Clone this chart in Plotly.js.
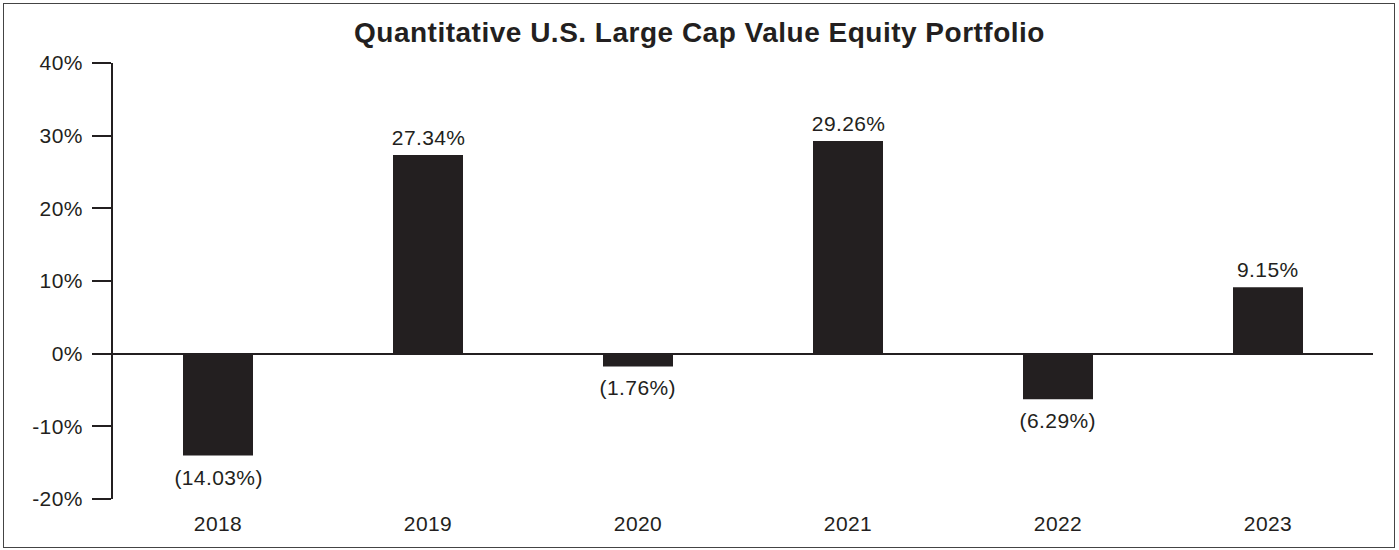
<!DOCTYPE html>
<html>
<head>
<meta charset="utf-8">
<script src="https://cdn.plot.ly/plotly-3.0.1.min.js"></script>
<style>
  html, body { margin: 0; padding: 0; background: #fff; }
  #chart { width: 1399px; height: 550px; }
  #frame { position: absolute; left: 3px; top: 3px; width: 1390px; height: 543px; border: 1.5px solid #444; pointer-events: none; }
  #chart text { letter-spacing: 0.4px; }
  #chart .gtitle { letter-spacing: 0.5px !important; }
</style>
</head>
<body>
<div id="chart"></div>
<div id="frame"></div>
<script>
const years = ['2018', '2019', '2020', '2021', '2022', '2023'];
const returns = [-14.03, 27.34, -1.76, 29.26, -6.29, 9.15];
const yTickVals = [-20, -10, 0, 10, 20, 30, 40];
const yTickText = ['-20%', '-10%', '0%', '10%', '20%', '30%', '40%'];

const labels = returns.map(v => v < 0 ? '(' + Math.abs(v).toFixed(2) + '%)' : v.toFixed(2) + '%');
const ink = '#231f20';
const font = 'Liberation Sans, Arial, Helvetica, sans-serif';
const fs = 21;

// category axis: annotation x given as category index
const annotations = years.map((yr, i) => ({
  x: i,
  y: returns[i],
  xref: 'x',
  yref: 'y',
  text: labels[i],
  showarrow: false,
  xanchor: 'center',
  yanchor: returns[i] < 0 ? 'top' : 'bottom',
  yshift: returns[i] < 0 ? -8 : 4,
  font: { family: font, size: fs, color: ink }
}));

Plotly.newPlot('chart', [{
  type: 'bar',
  x: years,
  y: returns,
  marker: { color: ink, line: { width: 0 } },
  width: 1 / 3,
  hoverinfo: 'none'
}], {
  width: 1399,
  height: 550,
  margin: { l: 113, r: 26, t: 63, b: 51 },
  paper_bgcolor: '#fff',
  plot_bgcolor: '#fff',
  showlegend: false,
  font: { family: font, size: fs, color: ink },
  annotations: annotations,
  title: {
    text: '<b>Quantitative U.S. Large Cap Value Equity Portfolio</b>',
    font: { family: font, size: 28, color: ink },
    x: 0.5, xanchor: 'center', y: 0.942, yanchor: 'middle'
  },
  xaxis: {
    type: 'category',
    range: [-0.5, years.length - 0.5],
    showline: false,
    showgrid: false,
    zeroline: false,
    ticks: 'outside',
    ticklen: 6,
    tickcolor: 'rgba(0,0,0,0)',
    tickfont: { family: font, size: fs, color: ink },
    fixedrange: true
  },
  yaxis: {
    range: [-20, 40],
    tickvals: yTickVals,
    ticktext: yTickText,
    showline: true,
    linecolor: ink,
    linewidth: 2,
    ticks: 'outside',
    ticklen: 19,
    tickwidth: 2,
    tickcolor: ink,
    ticklabelstandoff: 5,
    showgrid: false,
    zeroline: true,
    zerolinecolor: ink,
    zerolinewidth: 2,
    tickfont: { family: font, size: fs, color: ink },
    fixedrange: true
  }
}, { displayModeBar: false, staticPlot: true });
</script>
</body>
</html>
